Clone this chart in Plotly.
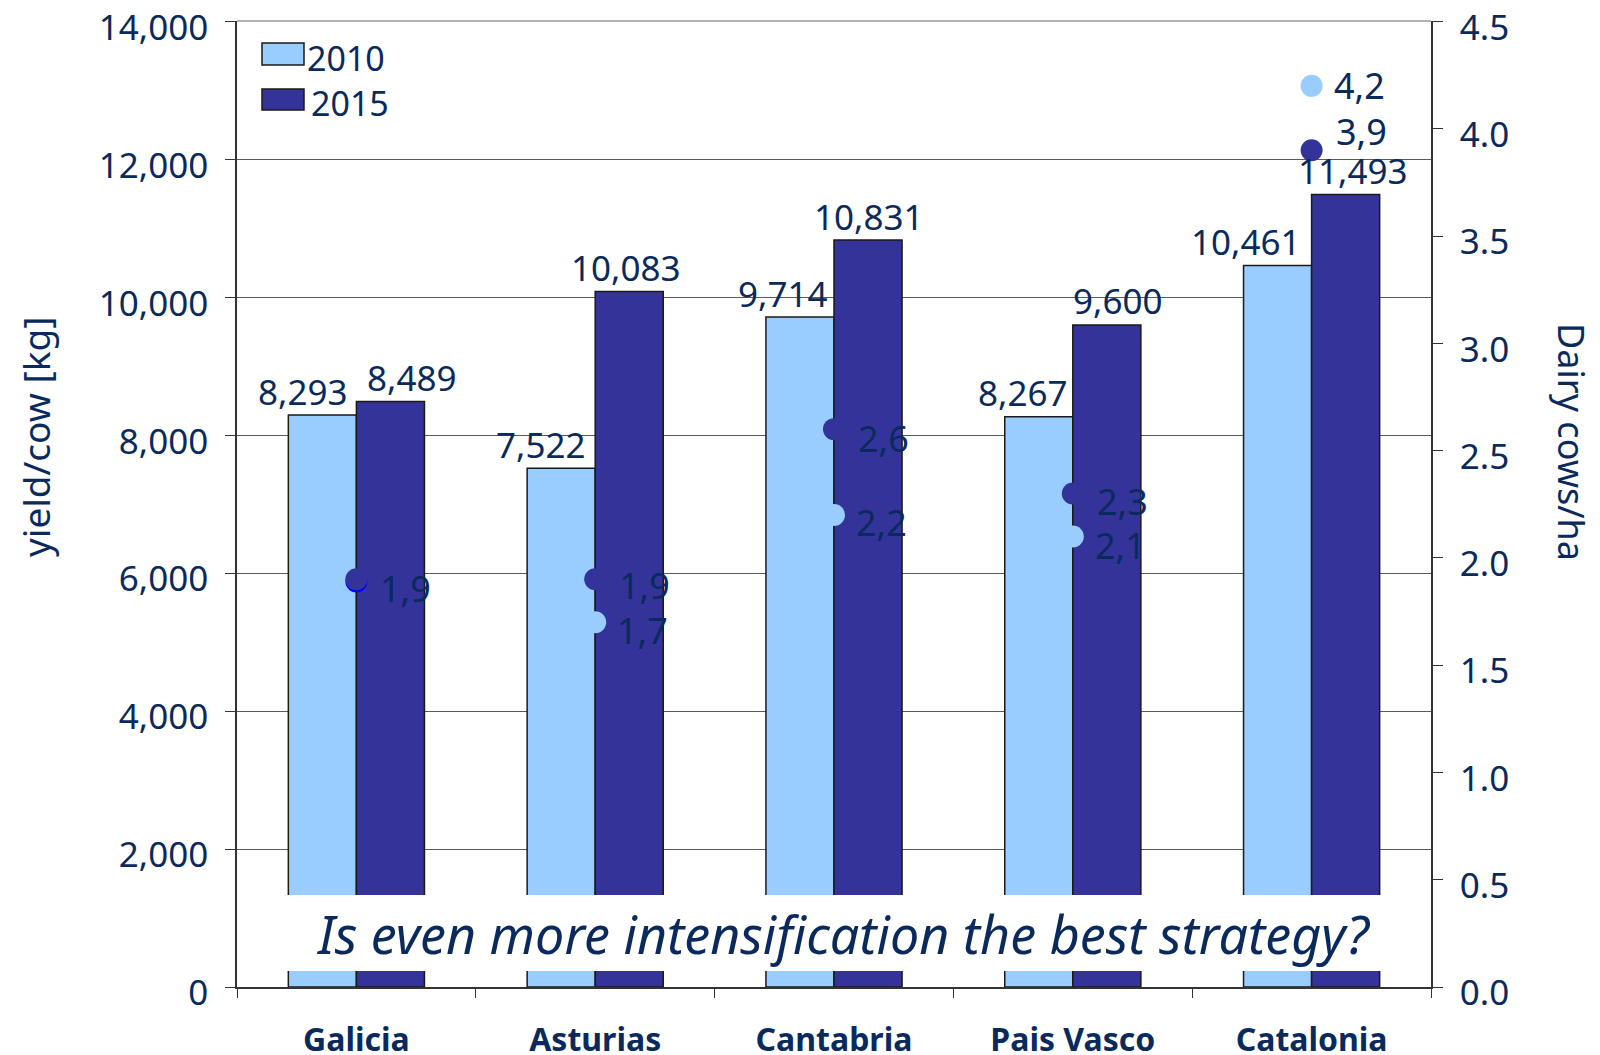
import plotly.graph_objects as go

# ---- data -------------------------------------------------------------
regions = ["Galicia", "Asturias", "Cantabria", "Pais Vasco", "Catalonia"]
years = ["2010", "2015"]
yield_2010 = [8293, 7522, 9714, 8267, 10461]          # kg per cow
yield_2015 = [8489, 10083, 10831, 9600, 11493]
cows_ha_2010 = [1.89, 1.7, 2.2, 2.1, 4.2]              # dairy cows per ha
cows_ha_2015 = [1.9, 1.9, 2.6, 2.3, 3.9]
left_ticks = [0, 2000, 4000, 6000, 8000, 10000, 12000, 14000]
right_ticks = [0.0, 0.5, 1.0, 1.5, 2.0, 2.5, 3.0, 3.5, 4.0, 4.5]
question = "Is even more intensification the best strategy?"

# ---- styling ----------------------------------------------------------
W, H = 1600, 1055
M = dict(l=237, r=169, t=21, b=68)
PW = W - M["l"] - M["r"]
PH = H - M["t"] - M["b"]
LIGHT = "#99CCFF"
DARK = "#333399"
NAVY = "#0A2A5E"
EDGE = "#1a1a1a"
FONT = "Noto Sans"
Y_MAX = 14000
Y2_MAX = 4.5
PAD = 1.0005  # keeps the top tick and its label inside the range


def px_x(p):
    return (p - M["l"]) / PW


def px_y(p):
    return (H - M["b"] - p) / PH


def comma_dec(v):
    return f"{v:.1f}".replace(".", ",")


fig = go.Figure()

for name, vals, col in [(years[0], yield_2010, LIGHT), (years[1], yield_2015, DARK)]:
    fig.add_trace(go.Bar(
        x=regions, y=vals, name=name,
        marker=dict(color=col, line=dict(color=EDGE, width=1.5)),
        showlegend=False, hoverinfo="x+y",
    ))

point_colors_2010 = ["#0000FF"] + [LIGHT] * (len(regions) - 1)
fig.add_trace(go.Scatter(
    x=regions, y=cows_ha_2010, yaxis="y2", mode="markers", name=years[0],
    marker=dict(size=22, color=point_colors_2010, line=dict(width=0)),
    showlegend=False,
))
fig.add_trace(go.Scatter(
    x=regions, y=cows_ha_2015, yaxis="y2", mode="markers", name=years[1],
    marker=dict(size=22, color=DARK, line=dict(width=0)),
    showlegend=False,
))

annotations = []
label_font = dict(family=FONT, size=35, color=NAVY)

# value labels above the bars (2010 right-aligned to the left of the pair)
shift_2010 = [-7, -8, -5, -4, -10]
shift_2015 = [55, 30, 34, 45, 41]
for i, r in enumerate(regions):
    annotations.append(dict(
        x=r, y=yield_2010[i], xref="x", yref="y", text=f"{yield_2010[i]:,}",
        showarrow=False, xanchor="right", yanchor="middle",
        xshift=shift_2010[i], yshift=24, font=label_font,
    ))
    annotations.append(dict(
        x=r, y=yield_2015[i], xref="x", yref="y", text=f"{yield_2015[i]:,}",
        showarrow=False, xanchor="center", yanchor="middle",
        xshift=shift_2015[i], yshift=24, font=label_font,
    ))

# labels next to the cows/ha points
pt_font = dict(family=FONT, size=36, color=NAVY)
show_2010 = [False, True, True, True, True]
yshift_2010 = [-9, -8, -8, -9, 0]
yshift_2015 = [-9, -6, -9, -8, 19]
for i, r in enumerate(regions):
    if show_2010[i]:
        annotations.append(dict(
            x=r, y=cows_ha_2010[i], xref="x", yref="y2", text=comma_dec(cows_ha_2010[i]),
            showarrow=False, xanchor="left", yanchor="middle",
            xshift=20, yshift=yshift_2010[i], font=pt_font,
        ))
    annotations.append(dict(
        x=r, y=cows_ha_2015[i], xref="x", yref="y2", text=comma_dec(cows_ha_2015[i]),
        showarrow=False, xanchor="left", yanchor="middle",
        xshift=22, yshift=yshift_2015[i], font=pt_font,
    ))

# axis titles
annotations.append(dict(
    x=px_x(36), y=px_y(437), xref="paper", yref="paper", text="yield/cow [kg]",
    showarrow=False, textangle=-90, xanchor="center", yanchor="middle",
    font=dict(family=FONT, size=37, color=NAVY),
))
annotations.append(dict(
    x=px_x(1571), y=px_y(442), xref="paper", yref="paper", text="Dairy cows/ha",
    showarrow=False, textangle=90, xanchor="center", yanchor="middle",
    font=dict(family=FONT, size=36, color=NAVY),
))

# legend entries
annotations.append(dict(
    x=px_x(305), y=px_y(58), xref="paper", yref="paper", text=years[0],
    showarrow=False, xanchor="left", yanchor="middle",
    font=dict(family=FONT, size=34, color=NAVY),
))
annotations.append(dict(
    x=px_x(309), y=px_y(103), xref="paper", yref="paper", text=years[1],
    showarrow=False, xanchor="left", yanchor="middle",
    font=dict(family=FONT, size=34, color=NAVY),
))

# the question written across the bars
annotations.append(dict(
    x=px_x(843), y=px_y(933), xref="paper", yref="paper", text=question,
    showarrow=False, xanchor="center", yanchor="middle",
    font=dict(family=FONT, size=52, color=NAVY, style="italic"),
))

shapes = [
    dict(type="rect", xref="paper", yref="paper",
         x0=px_x(262), x1=px_x(304), y0=px_y(65), y1=px_y(43),
         fillcolor=LIGHT, line=dict(color=EDGE, width=1.5)),
    dict(type="rect", xref="paper", yref="paper",
         x0=px_x(262), x1=px_x(304), y0=px_y(110), y1=px_y(89),
         fillcolor=DARK, line=dict(color=EDGE, width=1.5)),
    dict(type="rect", xref="paper", yref="paper", layer="above",
         x0=px_x(268), x1=px_x(1418), y0=px_y(971), y1=px_y(895),
         fillcolor="white", line=dict(width=0)),
    # light top border of the plot area
    dict(type="line", xref="paper", yref="paper", x0=0, x1=1, y0=1, y1=1,
         line=dict(color="#9a9a9a", width=1.5)),
]

tick_font = dict(family=FONT, size=35, color=NAVY)
tick_common = dict(tickcolor="#333", tickwidth=1.2, automargin=False)

fig.update_layout(
    template="none",
    width=W, height=H, margin=M,
    paper_bgcolor="white", plot_bgcolor="white",
    barmode="group", bargap=0.43, bargroupgap=0,
    annotations=annotations, shapes=shapes, showlegend=False,
    xaxis=dict(
        showline=True, linecolor="#333", linewidth=1.5,
        ticks="outside", tickson="boundaries", ticklen=9,
        tickfont=dict(family=FONT, size=32, color=NAVY, weight="bold"),
        ticklabelstandoff=24, showgrid=False, zeroline=False, **tick_common,
    ),
    xaxis2=dict(
        overlaying="x", range=[-0.5, 4.5], tickvals=[-0.5, 0.5, 1.5, 2.5, 3.5, 4.5],
        ticks="inside", ticklen=9,
        showticklabels=False, showgrid=False, zeroline=False, showline=False,
        side="bottom", anchor="y", **tick_common,
    ),
    yaxis=dict(
        range=[0, Y_MAX * PAD], tickvals=left_ticks, tickformat=",",
        showgrid=True, gridcolor="#5a5a5a", gridwidth=1,
        showline=True, linecolor="#333", linewidth=1.5,
        ticks="outside", ticklen=10,
        tickfont=tick_font, ticklabelstandoff=10, ticklabelshift=6,
        ticklabeloverflow="allow",
        zeroline=False, **tick_common,
    ),
    yaxis2=dict(
        overlaying="y", side="right", range=[0, Y2_MAX * PAD], tickvals=right_ticks,
        tickformat=".1f", showgrid=False,
        showline=True, linecolor="#333", linewidth=1.5,
        ticks="outside", ticklen=10,
        tickfont=tick_font, ticklabelstandoff=10, ticklabelshift=6,
        ticklabeloverflow="allow",
        zeroline=False, **tick_common,
    ),
    yaxis3=dict(
        overlaying="y", side="left", range=[0, Y_MAX * PAD], tickvals=left_ticks,
        ticks="inside", ticklen=10,
        showticklabels=False, showgrid=False, zeroline=False, showline=False,
        **tick_common,
    ),
    yaxis4=dict(
        overlaying="y", side="right", range=[0, Y2_MAX * PAD], tickvals=right_ticks,
        ticks="inside", ticklen=10,
        showticklabels=False, showgrid=False, zeroline=False, showline=False,
        **tick_common,
    ),
)

fig.write_html("out.html")
